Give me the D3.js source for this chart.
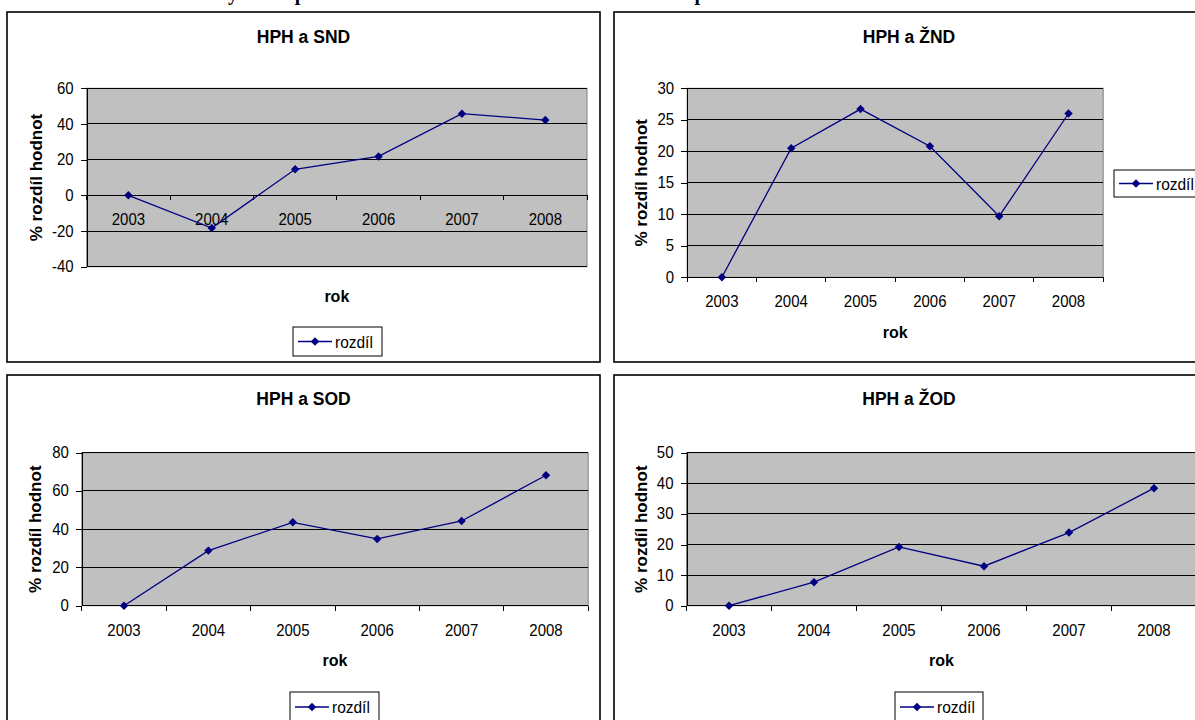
<!DOCTYPE html>
<html>
<head>
<meta charset="utf-8">
<script src="https://cdn.jsdelivr.net/npm/d3@7"></script>
<style>
  body { margin: 0; background: #ffffff; }
  svg { display: block; }
</style>
</head>
<body>
<svg id="chart" width="1195" height="720"></svg>
<script>
// ---- data ----
const years = ["2003", "2004", "2005", "2006", "2007", "2008"];
const sndValues = [0, -18.3, 14.6, 21.8, 45.8, 42.2];
const zndValues = [0, 20.5, 26.7, 20.8, 9.7, 26.0];
const sodValues = [0, 28.8, 43.6, 34.9, 44.3, 68.2];
const zodValues = [0, 7.7, 19.2, 12.9, 23.9, 38.4];
const sndTicks = [-40, -20, 0, 20, 40, 60];
const zndTicks = [0, 5, 10, 15, 20, 25, 30];
const sodTicks = [0, 20, 40, 60, 80];
const zodTicks = [0, 10, 20, 30, 40, 50];
const chartTitles = ["HPH a SND", "HPH a ŽND", "HPH a SOD", "HPH a ŽOD"];
const seriesName = "rozdíl";
const xAxisTitle = "rok";
const yAxisTitle = "% rozdíl hodnot";
const pageHeading = "Grafy 1 – 4: procentní rozdíl mezi HPH a dalšími ukazateli podle oblastí";

// ---- styles ----
const FONT = "'Liberation Sans', Arial, sans-serif";
const NAVY = "#000080";
const PLOT_FILL = "#c0c0c0";
const STRETCH = 1.12;   // small labels are drawn slightly taller than wide

const svg = d3.select("#chart");

// page heading (runs off the top edge)
svg.append("text")
  .attr("x", 187).attr("y", 0)
  .attr("font-family", "'Liberation Serif', 'Times New Roman', serif")
  .attr("font-weight", "bold")
  .attr("font-size", 20)
  .attr("fill", "#000")
  .text(pageHeading);

// ---- layout of the four charts ----
const panels = [
  { title: chartTitles[0], values: sndValues, ticks: sndTicks,
    frame: { x: 7, y: 12, w: 593, h: 350 },
    plot: { x: 86.7, y: 88.3, w: 500.3, h: 178.4 },
    titleX: 303.5, titleY: 42.7, rokY: 301.7, yTitleX: 36,
    legend: { x: 293, y: 327, w: 89, h: 29 } },
  { title: chartTitles[1], values: zndValues, ticks: zndTicks,
    frame: { x: 614, y: 12, w: 600, h: 350 },
    plot: { x: 687.2, y: 88.3, w: 416, h: 189 },
    titleX: 909, titleY: 42.7, rokY: 338, yTitleX: 641,
    legend: { x: 1114, y: 170, w: 95, h: 27 } },
  { title: chartTitles[2], values: sodValues, ticks: sodTicks,
    frame: { x: 7, y: 375, w: 593, h: 400 },
    plot: { x: 81.8, y: 452.7, w: 506.4, h: 153 },
    titleX: 303.5, titleY: 405, rokY: 666, yTitleX: 35.5,
    legend: { x: 290, y: 692, w: 89, h: 30 } },
  { title: chartTitles[3], values: zodValues, ticks: zodTicks,
    frame: { x: 614, y: 375, w: 600, h: 400 },
    plot: { x: 686.5, y: 452.7, w: 510, h: 153 },
    titleX: 909, titleY: 405, rokY: 666, yTitleX: 641,
    legend: { x: 895, y: 692, w: 88, h: 30 } }
];

const diamond = d3.symbol().type(d3.symbolSquare).size(36);

function drawPanel(cfg) {
  const g = svg.append("g");
  const p = cfg.plot;

  // chart frame
  g.append("rect")
    .attr("x", cfg.frame.x).attr("y", cfg.frame.y)
    .attr("width", cfg.frame.w).attr("height", cfg.frame.h)
    .attr("fill", "#fff").attr("stroke", "#000").attr("stroke-width", 1.6);

  // chart title
  g.append("text")
    .attr("x", cfg.titleX).attr("y", cfg.titleY)
    .attr("text-anchor", "middle")
    .attr("font-family", FONT).attr("font-weight", "bold").attr("font-size", 17.5)
    .text(cfg.title);

  const x = d3.scaleBand().domain(years).range([p.x, p.x + p.w]).padding(0);
  const y = d3.scaleLinear().domain(d3.extent(cfg.ticks)).range([p.y + p.h, p.y]);

  // plot area
  g.append("rect")
    .attr("x", p.x).attr("y", p.y).attr("width", p.w).attr("height", p.h)
    .attr("fill", PLOT_FILL).attr("stroke", "#808080").attr("stroke-width", 1);

  // horizontal gridlines
  g.append("g").selectAll("line").data(cfg.ticks).join("line")
    .attr("x1", p.x).attr("x2", p.x + p.w)
    .attr("y1", d => y(d)).attr("y2", d => y(d))
    .attr("stroke", "#000").attr("stroke-width", 1)
    .attr("shape-rendering", "crispEdges");

  // value axis
  const yAxis = d3.axisLeft(y).tickValues(cfg.ticks)
    .tickSize(6).tickSizeOuter(0).tickPadding(7)
    .tickFormat(d => String(d));
  const ya = g.append("g").attr("transform", `translate(${p.x},0)`).call(yAxis);
  ya.select(".domain").attr("stroke", "#000").attr("shape-rendering", "crispEdges");
  ya.selectAll(".tick line").attr("stroke", "#000").attr("shape-rendering", "crispEdges");
  ya.selectAll(".tick text")
    .attr("dy", "0.3em")
    .attr("transform", `scale(1,${STRETCH})`)
    .attr("font-family", FONT).attr("font-size", 15).attr("fill", "#000");

  // category axis crossing at zero
  const y0 = y(0);
  g.append("line")
    .attr("x1", p.x).attr("x2", p.x + p.w).attr("y1", y0).attr("y2", y0)
    .attr("stroke", "#000").attr("shape-rendering", "crispEdges");
  const bounds = years.map(d => x(d)).concat([x.range()[1]]);
  g.append("g").selectAll("line").data(bounds).join("line")
    .attr("x1", d => d).attr("x2", d => d)
    .attr("y1", y0).attr("y2", y0 + 5)
    .attr("stroke", "#000").attr("shape-rendering", "crispEdges");
  const xAxis = d3.axisBottom(x).tickSize(0).tickPadding(0);
  const xa = g.append("g").attr("transform", `translate(0,${y0})`).call(xAxis);
  xa.select(".domain").remove();
  xa.selectAll(".tick text")
    .attr("dy", null).attr("y", 0)
    .attr("transform", `translate(0,30) scale(1,${STRETCH})`)
    .attr("font-family", FONT).attr("font-size", 15).attr("fill", "#000");

  // axis titles
  g.append("text")
    .attr("x", p.x + p.w / 2).attr("y", cfg.rokY)
    .attr("text-anchor", "middle")
    .attr("font-family", FONT).attr("font-weight", "bold").attr("font-size", 16)
    .text(xAxisTitle);
  g.append("text")
    .attr("transform", `translate(${cfg.yTitleX},${p.y + p.h / 2}) rotate(-90)`)
    .attr("text-anchor", "middle").attr("dominant-baseline", "central")
    .attr("font-family", FONT).attr("font-weight", "bold").attr("font-size", 17)
    .text(yAxisTitle);

  // series line with diamond markers
  const pts = years.map((yr, i) => [x(yr) + x.bandwidth() / 2, y(cfg.values[i])]);
  g.append("path")
    .attr("d", d3.line()(pts))
    .attr("fill", "none").attr("stroke", NAVY).attr("stroke-width", 1.3);
  g.append("g").selectAll("path").data(pts).join("path")
    .attr("d", diamond)
    .attr("transform", d => `translate(${d[0]},${d[1]}) rotate(45)`)
    .attr("fill", NAVY);

  // legend
  const L = cfg.legend;
  const lg = g.append("g");
  lg.append("rect")
    .attr("x", L.x).attr("y", L.y).attr("width", L.w).attr("height", L.h)
    .attr("fill", "#fff").attr("stroke", "#000").attr("stroke-width", 1);
  const ly = L.y + L.h / 2;
  lg.append("line")
    .attr("x1", L.x + 5).attr("x2", L.x + 39).attr("y1", ly).attr("y2", ly)
    .attr("stroke", NAVY).attr("stroke-width", 1.3);
  lg.append("path").attr("d", diamond)
    .attr("transform", `translate(${L.x + 22},${ly}) rotate(45)`)
    .attr("fill", NAVY);
  lg.append("text")
    .attr("transform", `translate(${L.x + 42},${ly + 6}) scale(1,${STRETCH})`)
    .attr("font-family", FONT).attr("font-size", 15.5)
    .text(seriesName);
}

panels.forEach(drawPanel);
</script>
</body>
</html>
